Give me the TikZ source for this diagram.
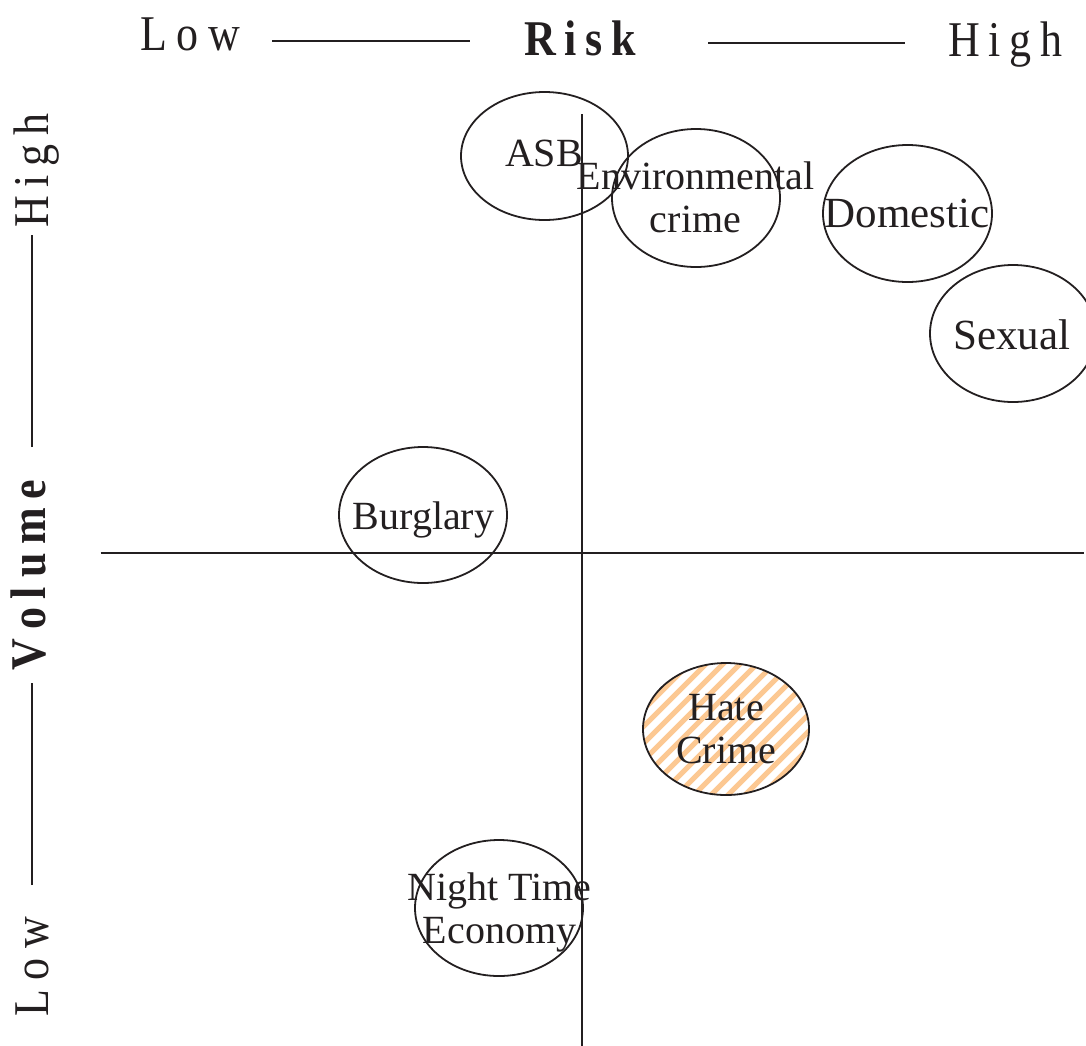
\documentclass[tikz,border=0pt]{standalone}
\usepackage{fontspec}
\usepackage{graphicx}
\usetikzlibrary{calc}
\setmainfont{Liberation Serif}
\definecolor{hatchorange}{RGB}{252,200,146}
\definecolor{inkgray}{RGB}{35,31,32}
\newcommand\hdrscale[1]{\scalebox{0.88}[1]{#1}}
\begin{document}
\begin{tikzpicture}[x=0.5pt,y=-0.5pt,
  blob/.style={draw=inkgray,line width=0.9pt},
  axis/.style={draw=inkgray,line width=1pt},
  rule/.style={draw=inkgray,line width=1pt},
  lbl/.style={inner sep=0pt,text=inkgray,font=\fontsize{20}{21.5}\selectfont,align=center},
  biglbl/.style={inner sep=0pt,text=inkgray,font=\fontsize{21.5}{23}\selectfont,align=center},
  hdr/.style={inner sep=0pt,text=inkgray,font=\fontsize{25}{27}\selectfont}
]
\useasboundingbox (0,0) rectangle (1086,1045);
\clip (0,0) rectangle (1086,1045);

% ellipse centres
\coordinate (asbc) at (544.5,156);
\coordinate (envc) at (696,198);
\coordinate (domc) at (907.5,213.5);
\coordinate (sexc) at (1013,333.5);
\coordinate (burc) at (423,515);
\coordinate (hatc) at (726,729);
\coordinate (ntec) at (499,908);

% hatch fill of Hate Crime
\begin{scope}
  \clip (hatc) ellipse (83 and 66);
  \foreach \k in {-255,-238,...,255}
    \draw[hatchorange,line width=2.6pt] ($(hatc)+(\k-110,110)$) -- ($(hatc)+(\k+110,-110)$);
\end{scope}

% axes
\coordinate (vtop) at (582,114);
\coordinate (vbot) at (582,1046);
\coordinate (hl) at (100.5,552.5);
\coordinate (hr) at (1084,552.5);
\draw[axis] (vtop) -- (vbot);
\draw[axis] (hl) -- (hr);

% ellipses
\draw[blob] (asbc) ellipse (83.5 and 64);
\draw[blob] (envc) ellipse (84 and 69);
\draw[blob] (domc) ellipse (84.5 and 68.5);
\draw[blob] (sexc) ellipse (83 and 68.5);
\draw[blob] (burc) ellipse (84 and 68);
\draw[blob] (hatc) ellipse (83 and 66);
\draw[blob] (ntec) ellipse (84 and 68);

% labels (base = baseline of the last line)
\node[lbl,anchor=base] (asb) at (544,166) {ASB};
\node[lbl,anchor=base] (env) at (695.5,232) {Environmental\\crime};
\node[biglbl,anchor=base] (dom) at (907,227) {Domestic};
\node[biglbl,anchor=base] (sex) at (1012,349) {Sexual};
\node[lbl,anchor=base] (bur) at (423.5,529) {Burglary};
\node[lbl,anchor=base] (hat) at (726,763) {Hate\\Crime};
\node[lbl,anchor=base] (nte) at (499.5,943) {Night Time\\Economy};

% top header
\node[hdr,anchor=base west] (tlow) at (140,50) {\hdrscale{L\hspace{.22em}o\hspace{.22em}w}};
\node[hdr,anchor=base,font=\fontsize{25}{27}\selectfont\bfseries] (risk) at (580,55) {\hdrscale{R\hspace{.2em}i\hspace{.2em}s\hspace{.2em}k}};
\node[hdr,anchor=base east] (thigh) at (1063,56) {\hdrscale{H\hspace{.2em}i\hspace{.2em}g\hspace{.2em}h}};
\coordinate (t1a) at (272,41);
\coordinate (t1b) at (470,41);
\coordinate (t2a) at (708,43);
\coordinate (t2b) at (905,43);
\draw[rule] (t1a) -- (t1b);
\draw[rule] (t2a) -- (t2b);

% left header (rotated)
\node[hdr,rotate=90,anchor=base west] (llow) at (48,1017) {\hdrscale{L\hspace{.22em}o\hspace{.22em}w}};
\node[hdr,rotate=90,anchor=base,font=\fontsize{25}{27}\selectfont\bfseries] (vol) at (46,575) {\hdrscale{V\hspace{.2em}o\hspace{.2em}l\hspace{.2em}u\hspace{.2em}m\hspace{.2em}e}};
\node[hdr,rotate=90,anchor=base east] (lhigh) at (48,113) {\hdrscale{H\hspace{.2em}i\hspace{.2em}g\hspace{.2em}h}};
\coordinate (l1a) at (32,885);
\coordinate (l1b) at (32,683);
\coordinate (l2a) at (32,447);
\coordinate (l2b) at (32,235);
\draw[rule] (l1a) -- (l1b);
\draw[rule] (l2a) -- (l2b);
\end{tikzpicture}
\end{document}
